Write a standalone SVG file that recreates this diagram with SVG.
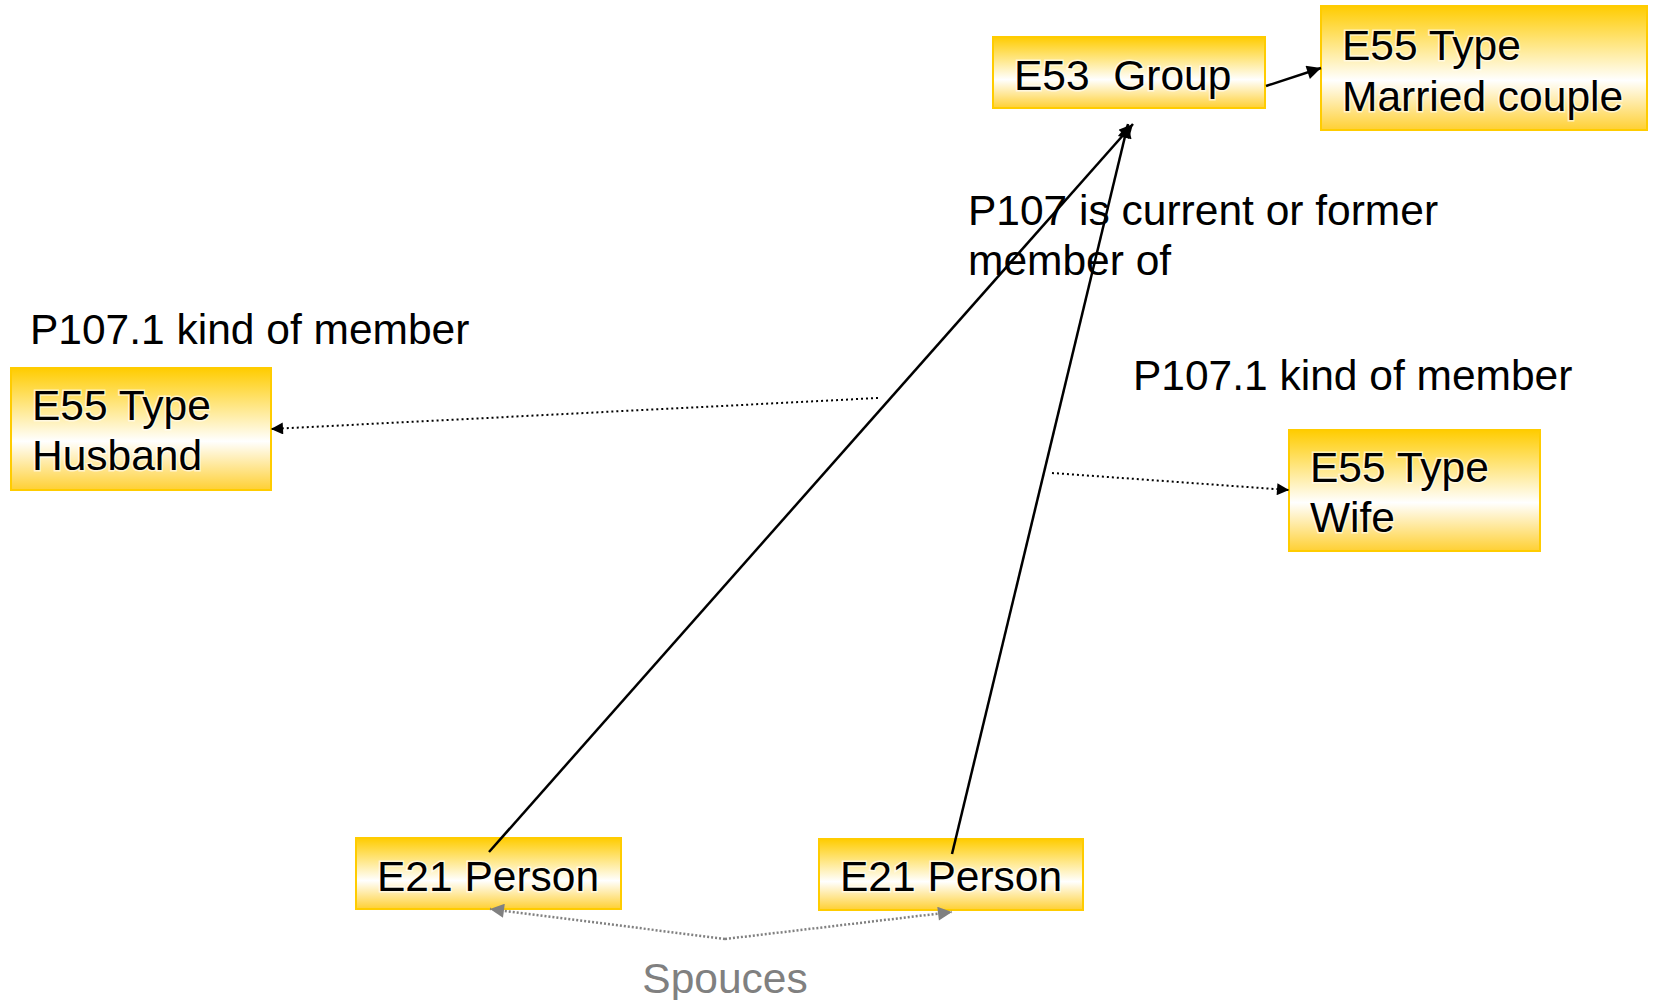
<svg xmlns="http://www.w3.org/2000/svg" width="1653" height="1000" viewBox="0 0 1653 1000">
<defs>
<linearGradient id="g" x1="0" y1="0" x2="0" y2="1">
<stop offset="0" stop-color="#FFCC00"/>
<stop offset="0.6" stop-color="#FFFFFF"/>
<stop offset="1" stop-color="#FFD033"/>
</linearGradient>
<marker id="ah" viewBox="0 0 10 10" refX="10" refY="5" markerWidth="20" markerHeight="14" markerUnits="userSpaceOnUse" orient="auto">
<path d="M0,0 L10,5 L0,10 z" fill="#000"/>
</marker>
<marker id="ahs" viewBox="0 0 10 10" refX="10" refY="5" markerWidth="16" markerHeight="12" markerUnits="userSpaceOnUse" orient="auto">
<path d="M0,0 L10,5 L0,10 z" fill="#000"/>
</marker>
<marker id="ahg" viewBox="0 0 10 10" refX="10" refY="5" markerWidth="18" markerHeight="14" markerUnits="userSpaceOnUse" orient="auto">
<path d="M0,0 L10,5 L0,10 z" fill="#808080"/>
</marker>
</defs>
<style>
.box{fill:url(#g);stroke:#FFCC00;stroke-width:2}
.t{font-family:"Liberation Sans",Arial,sans-serif;font-size:42.5px;fill:#000}
.nt{font-family:"Liberation Sans",Arial,sans-serif;font-size:42.5px;fill:#000;stroke:#fff;stroke-width:3;stroke-opacity:0.6;paint-order:stroke}
.solid{stroke:#000;stroke-width:2.5;fill:none;marker-end:url(#ah)}
.dot{stroke:#000;stroke-width:2;stroke-dasharray:2 3;fill:none;marker-end:url(#ahs)}
.gdot{stroke:#808080;stroke-width:2.5;stroke-dasharray:2 2;fill:none;marker-end:url(#ahg)}
</style>
<rect width="1653" height="1000" fill="#fff"/>
<g id="n_group">
<rect class="box" x="993" y="37" width="272" height="71"/>
<text class="nt" x="1014" y="90" xml:space="preserve">E53  Group</text>
</g>
<g id="n_married">
<rect class="box" x="1321" y="6" width="326" height="124"/>
<text class="nt" x="1342" y="60">E55 Type</text>
<text class="nt" x="1342" y="111">Married couple</text>
</g>
<g id="n_husband">
<rect class="box" x="11" y="368" width="260" height="122"/>
<text class="nt" x="32" y="420">E55 Type</text>
<text class="nt" x="32" y="470">Husband</text>
</g>
<g id="n_wife">
<rect class="box" x="1289" y="430" width="251" height="121"/>
<text class="nt" x="1310" y="482">E55 Type</text>
<text class="nt" x="1310" y="532">Wife</text>
</g>
<g id="n_person1">
<rect class="box" x="356" y="838" width="265" height="71"/>
<text class="nt" x="377" y="891">E21 Person</text>
</g>
<g id="n_person2">
<rect class="box" x="819" y="839" width="264" height="71"/>
<text class="nt" x="840" y="891">E21 Person</text>
</g>
<g id="connectors">
<line class="solid" x1="1266" y1="86" x2="1321" y2="68"/>
<line class="solid" x1="489" y1="852" x2="1133" y2="124"/>
<line class="solid" x1="952" y1="854" x2="1128" y2="124"/>
<line class="dot" x1="878" y1="398" x2="271" y2="429"/>
<line class="dot" x1="1052" y1="473" x2="1289" y2="490"/>
<line class="gdot" x1="725" y1="939" x2="490" y2="909"/>
<line class="gdot" x1="725" y1="939" x2="952" y2="912"/>
</g>
<g id="labels">
<text class="t" x="968" y="225">P107 is current or former</text>
<text class="t" x="968" y="275">member of</text>
<text class="t" x="30" y="344">P107.1 kind of member</text>
<text class="t" x="1133" y="390">P107.1 kind of member</text>
<text class="t" x="725" y="993" text-anchor="middle" style="fill:#808080">Spouces</text>
</g>
</svg>
